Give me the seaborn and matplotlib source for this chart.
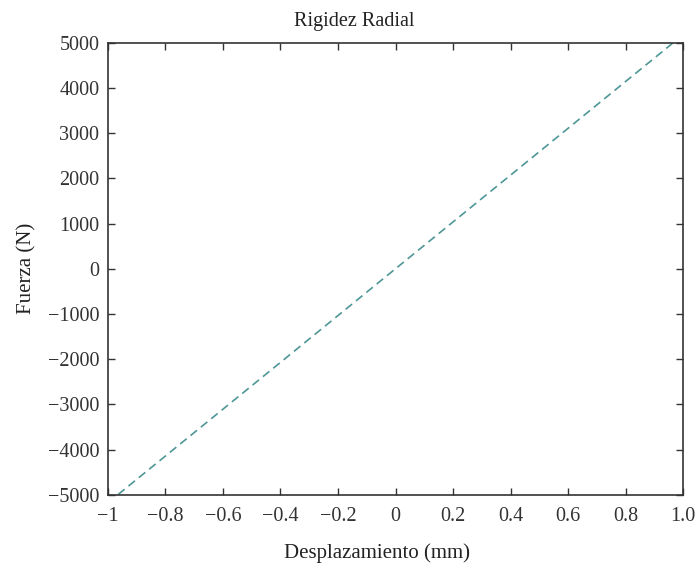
import numpy as np
import pandas as pd
import seaborn as sns
import matplotlib.pyplot as plt

# Data (linear radial stiffness)
desplazamiento = [-1.0, 1.0]
fuerza = [-5180, 5180]

xticks = [-1, -0.8, -0.6, -0.4, -0.2, 0, 0.2, 0.4, 0.6, 0.8, 1.0]
xticklabels = ['\u22121', '\u22120.8', '\u22120.6', '\u22120.4', '\u22120.2', '0',
               '0.2', '0.4', '0.6', '0.8', '1.0']
yticks = [-5000, -4000, -3000, -2000, -1000, 0, 1000, 2000, 3000, 4000, 5000]

sns.set_style('ticks')
plt.rcParams['font.family'] = ['Liberation Serif', 'DejaVu Serif']
plt.rcParams['axes.unicode_minus'] = True

df = pd.DataFrame({'Desplazamiento': desplazamiento, 'Fuerza': fuerza})

fig = plt.figure(figsize=(7, 5.7), dpi=100)
ax = fig.add_axes([0.154, 0.132, 0.822, 0.793])

sns.lineplot(data=df, x='Desplazamiento', y='Fuerza', ax=ax,
             color='#4f9696', linestyle='--', linewidth=1.2)
ax.lines[0].set_dashes((5, 3))

ax.set_xlim(-1, 1)
ax.set_ylim(-5000, 5000)
ax.set_xticks(xticks)
ax.set_xticklabels(xticklabels)
ax.set_yticks(yticks)
ax.set_yticklabels([('\u2212' + str(-v)) if v < 0 else str(v) for v in yticks])

ax.tick_params(direction='in', top=True, right=True, length=5, width=1,
               labelsize=14.5, colors='#333333', labelcolor='#333333')
ax.tick_params(axis='x', pad=9)
ax.tick_params(axis='y', pad=6)
for s in ax.spines.values():
    s.set_linewidth(1.2)
    s.set_color('#333333')

ax.set_title('Rigidez Radial', fontsize=14.5, x=0.428, pad=12, color='#222222')
ax.set_xlabel('Desplazamiento (mm)', fontsize=15, labelpad=12, x=0.468, color='#222222')
ax.set_ylabel('Fuerza (N)', fontsize=15, labelpad=8, color='#222222')

fig.savefig('out.png', dpi=100)
